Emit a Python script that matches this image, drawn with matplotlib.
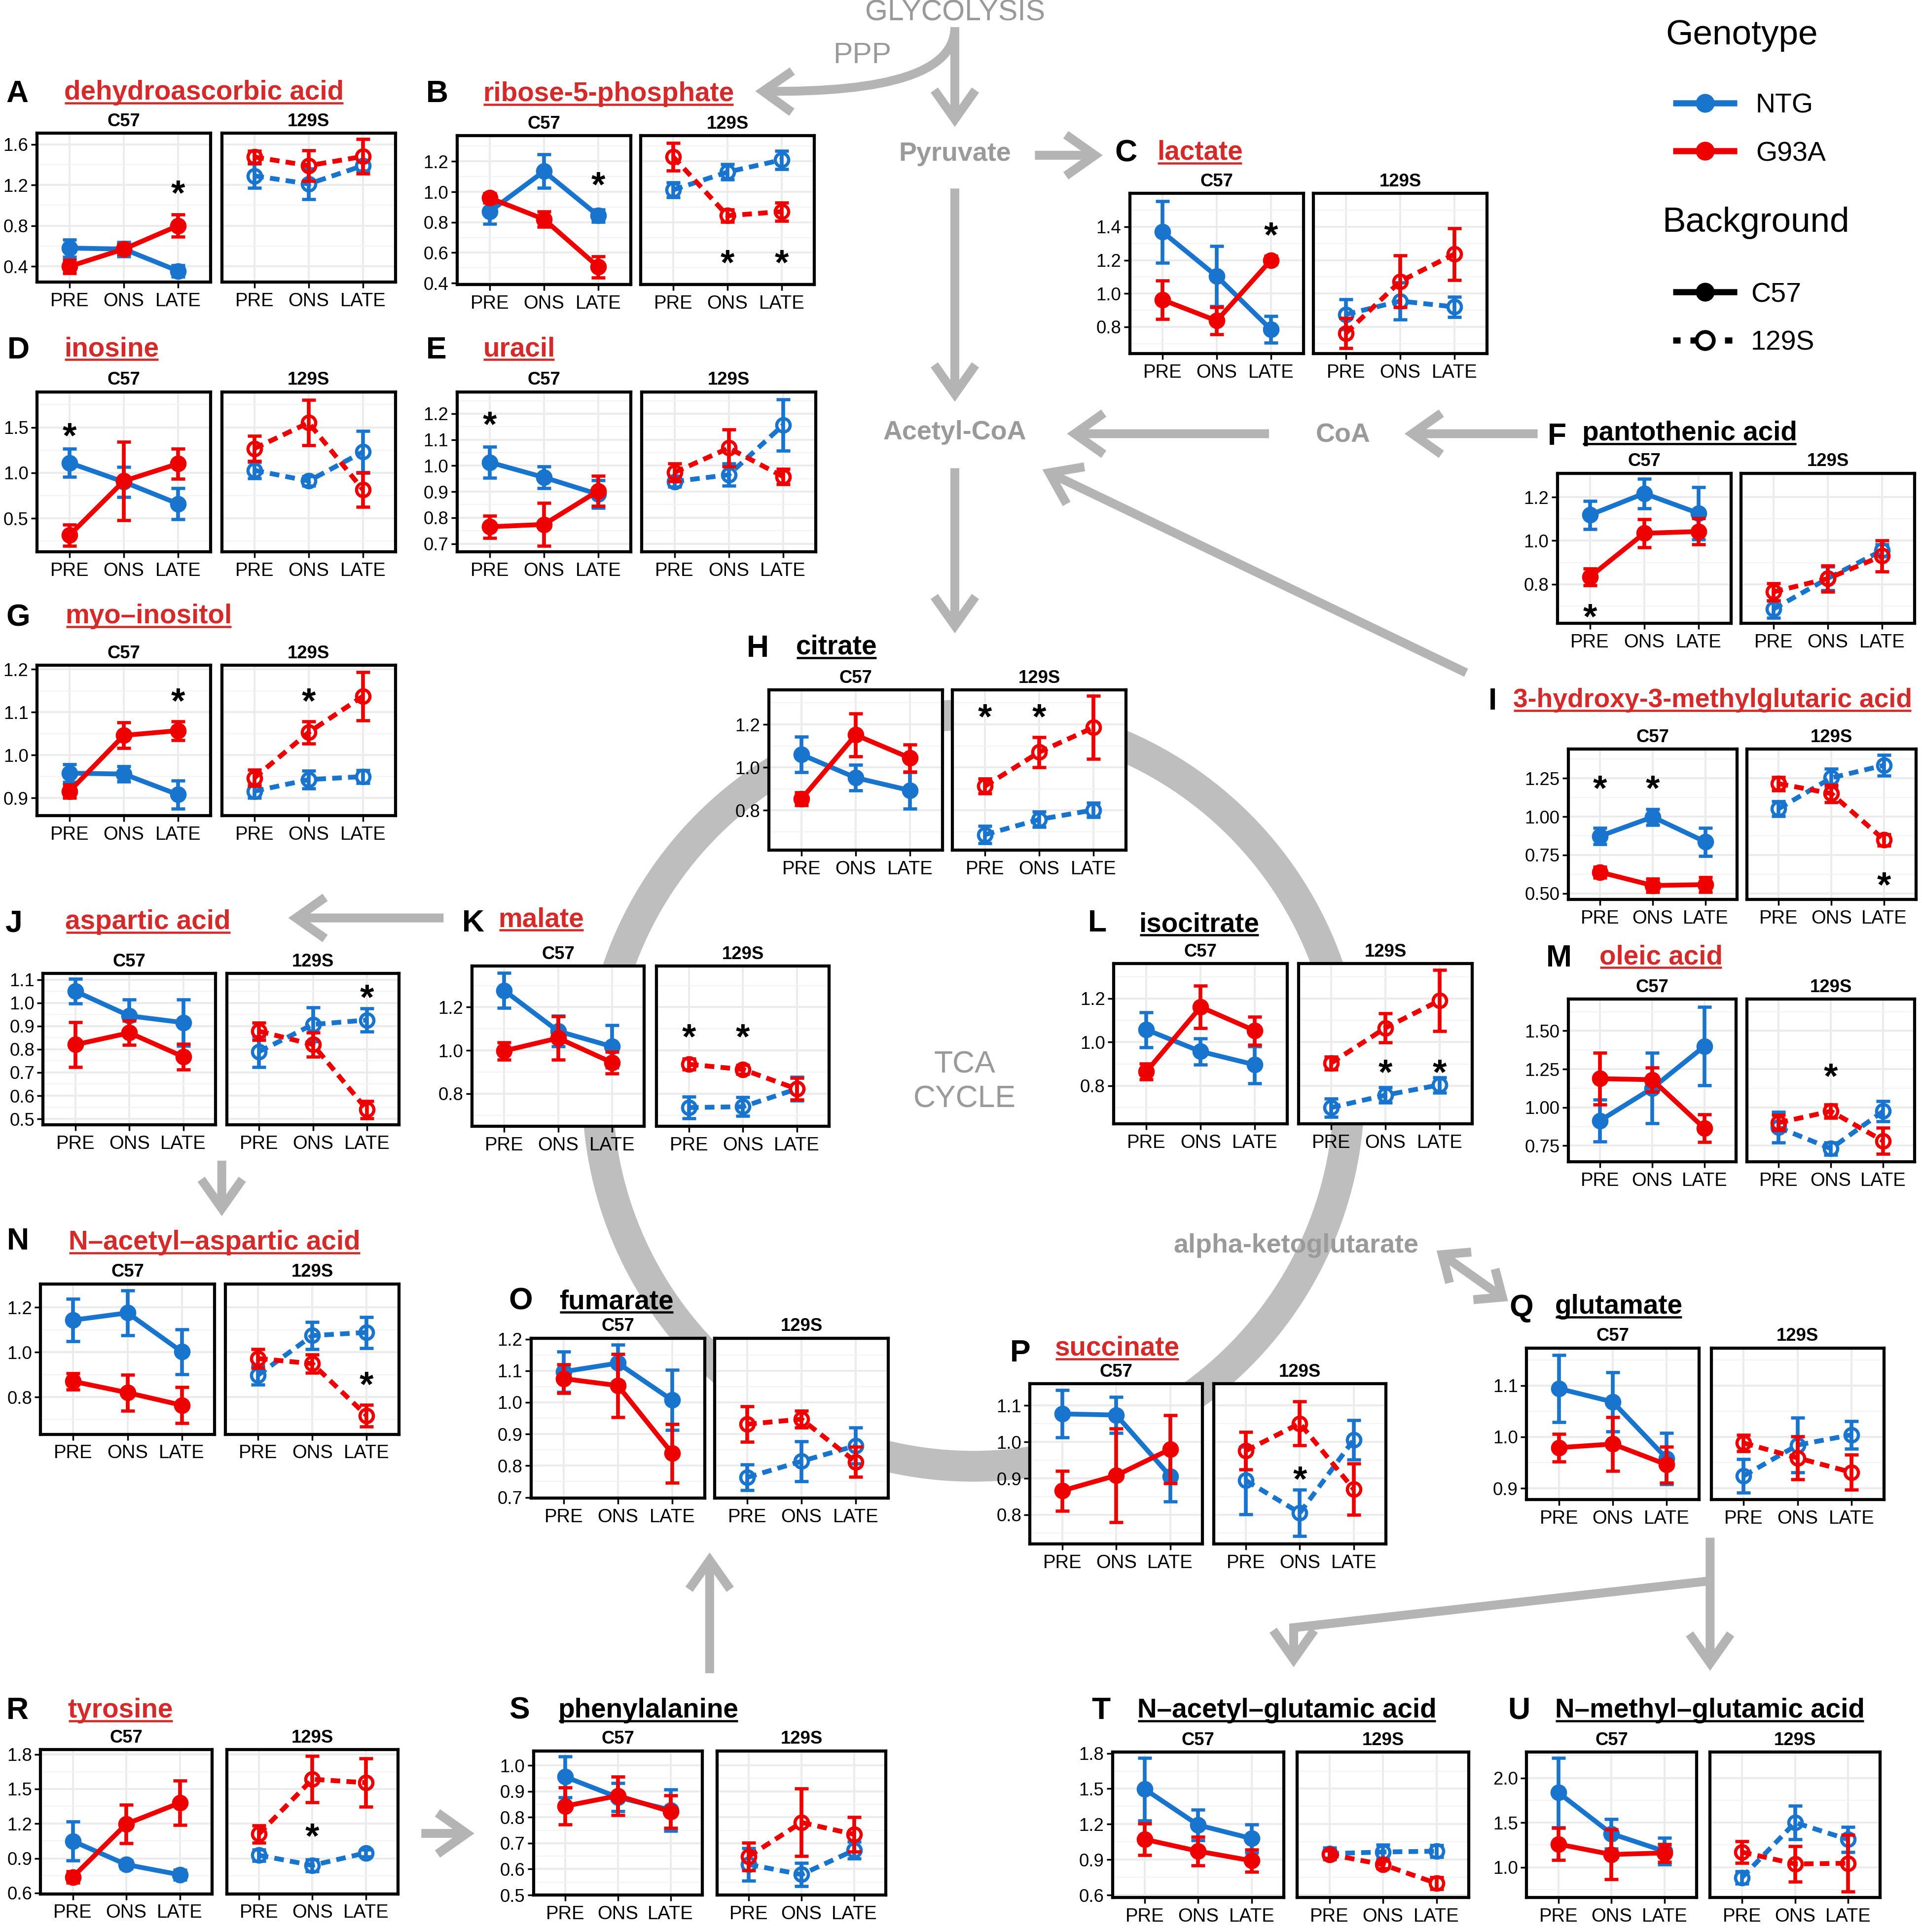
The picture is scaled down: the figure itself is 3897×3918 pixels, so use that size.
import matplotlib
matplotlib.use('Agg')
import matplotlib.pyplot as plt
from matplotlib.patches import Circle, FancyArrowPatch
from matplotlib.path import Path
from matplotlib.transforms import offset_copy

plt.rcParams['font.family'] = ['Liberation Sans', 'DejaVu Sans']

# --- colours / sizes ---
NTG_COL = '#1874CD'
G93A_COL = '#EE0000'
TITLE_RED = '#D42A2A'
ARROW_COL = '#b4b4b4'
RING_COL = '#bebebe'
GREY_TXT = '#9a9a9a'
STAR_SIZE = 21

TIMES = ['PRE', 'ONS', 'LATE']

# --- DATA ---
# rows: C57 NTG, C57 G93A, 129S NTG, 129S G93A ; columns: PRE, ONS, LATE
# stars: (background 0=C57 / 1=129S, timepoint index, height)
dha_mean = [[0.58, 0.57, 0.355], [0.40, 0.57, 0.80], [1.29, 1.21, 1.39], [1.475, 1.39, 1.48]]
dha_err = [[0.085, 0.07, 0.055], [0.065, 0.05, 0.11], [0.12, 0.15, 0.05], [0.06, 0.15, 0.17]]
dha_stars = [(0, 2, 1.20)]

r5p_mean = [[0.87, 1.135, 0.843], [0.96, 0.82, 0.507], [1.013, 1.13, 1.21], [1.23, 0.843, 0.87]]
r5p_err = [[0.08, 0.11, 0.04], [0.03, 0.05, 0.07], [0.05, 0.05, 0.06], [0.09, 0.04, 0.06]]
r5p_stars = [(0, 2, 1.10), (1, 1, 0.59), (1, 2, 0.59)]

lac_mean = [[1.37, 1.104, 0.785], [0.963, 0.837, 1.20], [0.875, 0.955, 0.92], [0.763, 1.073, 1.237]]
lac_err = [[0.185, 0.18, 0.08], [0.115, 0.08, 0.025], [0.09, 0.11, 0.06], [0.09, 0.155, 0.155]]
lac_stars = [(0, 2, 1.40)]

ino_mean = [[1.11, 0.90, 0.66], [0.315, 0.91, 1.10], [1.028, 0.91, 1.23], [1.267, 1.55, 0.815]]
ino_err = [[0.155, 0.165, 0.17], [0.115, 0.43, 0.165], [0.09, 0.05, 0.23], [0.14, 0.25, 0.19]]
ino_stars = [(0, 0, 1.50)]

ura_mean = [[1.013, 0.955, 0.89], [0.765, 0.774, 0.903], [0.939, 0.965, 1.156], [0.974, 1.068, 0.958]]
ura_err = [[0.06, 0.042, 0.053], [0.043, 0.083, 0.058], [0.02, 0.043, 0.098], [0.034, 0.071, 0.03]]
ura_stars = [(0, 0, 1.19)]

pan_mean = [[1.118, 1.217, 1.126], [0.834, 1.034, 1.042], [0.686, 0.827, 0.955], [0.765, 0.826, 0.93]]
pan_err = [[0.064, 0.068, 0.12], [0.038, 0.064, 0.06], [0.04, 0.055, 0.027], [0.04, 0.06, 0.072]]
pan_stars = [(0, 0, 0.69)]

myo_mean = [[0.958, 0.956, 0.908], [0.916, 1.046, 1.057], [0.916, 0.943, 0.95], [0.947, 1.053, 1.137]]
myo_err = [[0.021, 0.018, 0.033], [0.015, 0.03, 0.022], [0.015, 0.021, 0.015], [0.019, 0.026, 0.056]]
myo_stars = [(0, 2, 1.145), (1, 1, 1.145)]

cit_mean = [[1.06, 0.952, 0.893], [0.853, 1.151, 1.044], [0.687, 0.758, 0.802], [0.913, 1.071, 1.186]]
cit_err = [[0.083, 0.06, 0.085], [0.03, 0.1, 0.063], [0.04, 0.036, 0.034], [0.034, 0.07, 0.147]]
cit_stars = [(1, 0, 1.274), (1, 1, 1.274)]

hmg_mean = [[0.873, 0.998, 0.835], [0.638, 0.551, 0.557], [1.052, 1.253, 1.335], [1.215, 1.15, 0.848]]
hmg_err = [[0.054, 0.052, 0.092], [0.035, 0.043, 0.049], [0.049, 0.06, 0.068], [0.043, 0.057, 0.038]]
hmg_stars = [(0, 0, 1.237), (0, 1, 1.237), (1, 2, 0.607)]

asp_mean = [[1.05, 0.944, 0.915], [0.82, 0.871, 0.768], [0.79, 0.907, 0.926], [0.878, 0.82, 0.54]]
asp_err = [[0.053, 0.07, 0.10], [0.097, 0.053, 0.055], [0.066, 0.073, 0.05], [0.037, 0.053, 0.037]]
asp_stars = [(1, 2, 1.06)]

mal_mean = [[1.277, 1.089, 1.018], [0.998, 1.057, 0.944], [0.736, 0.74, 0.822], [0.936, 0.912, 0.822]]
mal_err = [[0.08, 0.07, 0.098], [0.04, 0.10, 0.05], [0.05, 0.043, 0.055], [0.025, 0.02, 0.05]]
mal_stars = [(1, 0, 1.10), (1, 1, 1.10)]

iso_mean = [[1.057, 0.957, 0.896], [0.865, 1.161, 1.052], [0.70, 0.757, 0.804], [0.904, 1.065, 1.191]]
iso_err = [[0.08, 0.06, 0.085], [0.037, 0.098, 0.064], [0.042, 0.035, 0.035], [0.03, 0.067, 0.14]]
iso_stars = [(1, 1, 0.90), (1, 2, 0.90)]

ole_mean = [[0.9125, 1.125, 1.40], [1.1875, 1.181, 0.8625], [0.869, 0.731, 0.975], [0.90, 0.975, 0.781]]
ole_err = [[0.137, 0.23, 0.256], [0.17, 0.08, 0.09], [0.10, 0.04, 0.065], [0.05, 0.044, 0.085]]
ole_stars = [(1, 1, 1.256)]

naa_mean = [[1.143, 1.175, 1.002], [0.87, 0.82, 0.764], [0.898, 1.074, 1.088], [0.972, 0.949, 0.718]]
naa_err = [[0.095, 0.10, 0.10], [0.036, 0.08, 0.08], [0.043, 0.06, 0.069], [0.042, 0.04, 0.048]]
naa_stars = [(1, 2, 0.893)]

fum_mean = [[1.097, 1.124, 1.007], [1.075, 1.053, 0.839], [0.763, 0.814, 0.863], [0.931, 0.947, 0.812]]
fum_err = [[0.064, 0.058, 0.095], [0.045, 0.10, 0.093], [0.041, 0.063, 0.057], [0.056, 0.026, 0.047]]
fum_stars = []

suc_mean = [[1.077, 1.074, 0.906], [0.866, 0.908, 0.98], [0.894, 0.805, 1.006], [0.976, 1.051, 0.87]]
suc_err = [[0.065, 0.05, 0.07], [0.055, 0.129, 0.093], [0.093, 0.064, 0.054], [0.052, 0.06, 0.07]]
suc_stars = [(1, 1, 0.92)]

glu_mean = [[1.094, 1.068, 0.958], [0.979, 0.986, 0.946], [0.924, 0.984, 1.004], [0.988, 0.959, 0.931]]
glu_err = [[0.065, 0.058, 0.05], [0.027, 0.052, 0.035], [0.033, 0.053, 0.027], [0.016, 0.042, 0.034]]
glu_stars = []

tyr_mean = [[1.049, 0.846, 0.758], [0.738, 1.197, 1.38], [0.927, 0.839, 0.947], [1.11, 1.584, 1.554]]
tyr_err = [[0.168, 0.035, 0.043], [0.05, 0.167, 0.19], [0.05, 0.05, 0.03], [0.075, 0.20, 0.21]]
tyr_stars = [(1, 1, 1.163)]

phe_mean = [[0.956, 0.877, 0.828], [0.843, 0.883, 0.822], [0.618, 0.579, 0.673], [0.649, 0.78, 0.734]]
phe_err = [[0.079, 0.054, 0.08], [0.071, 0.074, 0.063], [0.063, 0.044, 0.032], [0.053, 0.13, 0.067]]
phe_stars = []

nag_mean = [[1.497, 1.193, 1.079], [1.072, 0.972, 0.891], [0.951, 0.965, 0.972], [0.945, 0.858, 0.70]]
nag_err = [[0.265, 0.128, 0.118], [0.133, 0.12, 0.094], [0.05, 0.06, 0.05], [0.03, 0.03, 0.05]]
nag_stars = []

nmg_mean = [[1.836, 1.375, 1.178], [1.258, 1.142, 1.16], [0.884, 1.50, 1.31], [1.169, 1.036, 1.044]]
nmg_err = [[0.39, 0.165, 0.15], [0.18, 0.28, 0.10], [0.07, 0.19, 0.14], [0.12, 0.20, 0.32]]
nmg_stars = []

# --- LAYOUT (reference pixels of a 1560 x 1568 grid) ---
W, H = 1560, 1568
# letter, name, red title, data, ylim, yticks, decimals,
# box (C57 left, 129S left, width, top, bottom), letter (x, baseline), title (x, baseline)
panels = [
    ('A', 'dehydroascorbic acid', True, dha_mean, dha_err, dha_stars, (0.245, 1.71), [0.4, 0.8, 1.2, 1.6], 1,
     (30, 180, 141, 108, 229), (5, 83), (52, 81)),
    ('B', 'ribose-5-phosphate', True, r5p_mean, r5p_err, r5p_stars, (0.39, 1.37), [0.4, 0.6, 0.8, 1.0, 1.2], 1,
     (371, 520, 141, 110, 231), (346, 83), (392, 82)),
    ('C', 'lactate', True, lac_mean, lac_err, lac_stars, (0.64, 1.60), [0.8, 1.0, 1.2, 1.4], 1,
     (917, 1066, 141, 157, 287), (905, 131), (939, 129.5)),
    ('D', 'inosine', True, ino_mean, ino_err, ino_stars, (0.13, 1.89), [0.5, 1.0, 1.5], 1,
     (30, 180, 141, 318, 448), (6, 291), (52, 289)),
    ('E', 'uracil', True, ura_mean, ura_err, ura_stars, (0.668, 1.284), [0.7, 0.8, 0.9, 1.0, 1.1, 1.2], 1,
     (371, 521, 141, 318, 448), (346, 291), (392, 289)),
    ('F', 'pantothenic acid', False, pan_mean, pan_err, pan_stars, (0.62, 1.31), [0.8, 1.0, 1.2], 1,
     (1264, 1413, 141, 384, 506), (1256, 361), (1284, 357.5)),
    ('G', 'myo\u2013inositol', True, myo_mean, myo_err, myo_stars, (0.859, 1.209), [0.9, 1.0, 1.1, 1.2], 1,
     (30, 180, 141, 540, 662), (5, 508), (53, 506)),
    ('H', 'citrate', False, cit_mean, cit_err, cit_stars, (0.615, 1.36), [0.8, 1.0, 1.2], 1,
     (624, 773, 141, 560, 690), (606, 533), (646, 531)),
    ('I', '3-hydroxy-3-methylglutaric acid', True, hmg_mean, hmg_err, hmg_stars, (0.46, 1.44),
     [0.5, 0.75, 1.0, 1.25], 2, (1273, 1418, 137, 608, 730), (1208, 576), (1228, 574)),
    ('J', 'aspartic acid', True, asp_mean, asp_err, asp_stars, (0.474, 1.127),
     [0.5, 0.6, 0.7, 0.8, 0.9, 1.0, 1.1], 1, (35, 184, 140, 790, 913), (4, 756), (53, 754)),
    ('K', 'malate', True, mal_mean, mal_err, mal_stars, (0.65, 1.39), [0.8, 1.0, 1.2], 1,
     (383, 533, 140, 784, 914), (375, 756), (404.5, 752)),
    ('L', 'isocitrate', False, iso_mean, iso_err, iso_stars, (0.626, 1.36), [0.8, 1.0, 1.2], 1,
     (904, 1054, 141, 782, 912), (883, 756), (924.5, 756)),
    ('M', 'oleic acid', True, ole_mean, ole_err, ole_stars, (0.644, 1.706), [0.75, 1.0, 1.25, 1.5], 2,
     (1273, 1418, 136, 811, 943), (1255, 784.5), (1298, 782.5)),
    ('N', 'N\u2013acetyl\u2013aspartic acid', True, naa_mean, naa_err, naa_stars, (0.635, 1.304),
     [0.8, 1.0, 1.2], 1, (33, 183, 141, 1042, 1164), (5.7, 1014), (55.7, 1014)),
    ('O', 'fumarate', False, fum_mean, fum_err, fum_stars, (0.697, 1.203), [0.7, 0.8, 0.9, 1.0, 1.1, 1.2], 1,
     (431, 580, 141, 1086, 1216), (413, 1062.6), (454, 1062.3)),
    ('P', 'succinate', True, suc_mean, suc_err, suc_stars, (0.72, 1.16), [0.8, 0.9, 1.0, 1.1], 1,
     (836, 985, 140, 1123, 1253), (819.6, 1105), (856, 1100)),
    ('Q', 'glutamate', False, glu_mean, glu_err, glu_stars, (0.878, 1.173), [0.9, 1.0, 1.1], 1,
     (1239, 1389, 140, 1094, 1217), (1225, 1068), (1262, 1066)),
    ('R', 'tyrosine', True, tyr_mean, tyr_err, tyr_stars, (0.593, 1.84), [0.6, 0.9, 1.2, 1.5, 1.8], 1,
     (33, 184, 139, 1420, 1537), (5, 1395), (55, 1394)),
    ('S', 'phenylalanine', False, phe_mean, phe_err, phe_stars, (0.5, 1.056), [0.5, 0.6, 0.7, 0.8, 0.9, 1.0], 1,
     (433, 582, 137, 1421, 1538), (413, 1395), (453, 1394)),
    ('T', 'N\u2013acetyl\u2013glutamic acid', False, nag_mean, nag_err, nag_stars, (0.58, 1.81),
     [0.6, 0.9, 1.2, 1.5, 1.8], 1, (903, 1053, 139, 1422, 1540), (886, 1395), (923, 1394)),
    ('U', 'N\u2013methyl\u2013glutamic acid', False, nmg_mean, nmg_err, nmg_stars, (0.66, 2.29),
     [1.0, 1.5, 2.0], 1, (1239, 1388, 138, 1422, 1540), (1224, 1395), (1262, 1394)),
]

# --- FIGURE ---
fig = plt.figure(figsize=(3897 / 250, 3918 / 250), dpi=250)
bg = fig.add_axes([0, 0, 1, 1], zorder=0)
bg.set_xlim(0, W)
bg.set_ylim(H, 0)
bg.axis('off')

# TCA ring
bg.add_patch(Circle((790, 885), 305, fill=False, lw=18, ec=RING_COL, zorder=1))


def arrow(p0, p1, style='->', path=None, hl=1.7, hw=1.2):
    kw = dict(arrowstyle=f'{style},head_length={hl},head_width={hw}', mutation_scale=10, lw=5.2,
              color=ARROW_COL, shrinkA=0, shrinkB=0, zorder=1, joinstyle='miter', capstyle='butt')
    if path is not None:
        patch = FancyArrowPatch(path=path, **kw)
    else:
        patch = FancyArrowPatch(p0, p1, **kw)
    bg.add_patch(patch)


arrow((775, 22), (775, 103))
arrow(None, None, path=Path([(775, 22), (775, 76), (613, 74)], [Path.MOVETO, Path.CURVE3, Path.CURVE3]))
arrow((840, 126), (895, 126))
arrow((775, 153), (775, 326))
arrow((1030, 352), (866, 352))
arrow((1248, 352), (1140, 352))
arrow((1190, 546), (846, 381))
arrow((775, 380), (775, 514))
arrow((360, 745), (234, 745))
arrow((180, 942), (180, 987))
arrow((1166, 1015), (1224, 1056), style='<->', hl=1.3, hw=1.1)
arrow((1388, 1248), (1388, 1356))
arrow(None, None, path=Path([(1388, 1283), (1050, 1321), (1050, 1353)], [Path.MOVETO, Path.LINETO, Path.LINETO]))
arrow((576, 1358), (576, 1260))
arrow((342, 1488), (385, 1488))

# pathway labels
bg.text(775, 10.5, 'GLYCOLYSIS', fontsize=17, color=GREY_TXT, ha='center', va='center', zorder=3)
bg.text(700, 45, 'PPP', fontsize=17, color=GREY_TXT, ha='center', va='center', zorder=3)
for x, y, s in [(775, 125, 'Pyruvate'), (775, 351, 'Acetyl-CoA'), (1090, 353, 'CoA'),
                (1052, 1011, 'alpha-ketoglutarate')]:
    bg.text(x, y, s, fontsize=15.5, fontweight='bold', color=GREY_TXT, ha='center', va='center', zorder=3)
bg.text(783, 878, 'TCA\nCYCLE', fontsize=18, color=GREY_TXT, ha='center', va='center',
        linespacing=1.25, zorder=3)

# legend
bg.text(1352, 36, 'Genotype', fontsize=20.5, va='baseline', zorder=3)
bg.text(1349, 188, 'Background', fontsize=20.5, va='baseline', zorder=3)
for y, col, lab in [(83.6, NTG_COL, 'NTG'), (122.5, G93A_COL, 'G93A')]:
    bg.plot([1358, 1410], [y, y], color=col, lw=3.6, solid_capstyle='butt', zorder=3)
    bg.plot([1384], [y], 'o', color=col, ms=10, zorder=3)
    bg.text(1425, y + 8, lab, fontsize=16, va='baseline', zorder=3)
bg.plot([1358, 1410], [237, 237], color='black', lw=3.6, solid_capstyle='butt', zorder=3)
bg.plot([1384], [237], 'o', color='black', ms=10, zorder=3)
bg.text(1421, 245, 'C57', fontsize=16, va='baseline', zorder=3)
bg.plot([1358, 1410], [276, 276], color='black', lw=3.6, ls=(0, (1.2, 1.6)), zorder=3)
bg.plot([1384], [276], 'o', color='black', mfc='white', mew=2.2, ms=10, zorder=4)
bg.text(1421, 284, '129S', fontsize=16, va='baseline', zorder=3)

titles = []
for (letter, name, red, mean, err, stars, ylim, yticks, ndec, box, lxy, txy) in panels:
    c57_left, s129_left, width, top, bottom = box
    step = yticks[1] - yticks[0]
    minor = []
    v = yticks[0] - step / 2
    while v < ylim[1]:
        if v > ylim[0]:
            minor.append(v)
        v += step
    for b, left in enumerate([c57_left, s129_left]):
        ax = fig.add_axes([left / W, 1 - bottom / H, width / W, (bottom - top) / H], zorder=2)
        ax.set_facecolor('white')
        ax.set_xlim(0.4, 3.6)
        ax.set_ylim(*ylim)
        ax.set_xticks([1, 2, 3])
        ax.set_xticklabels(TIMES)
        ax.set_yticks(yticks)
        ax.set_yticks(minor, minor=True)
        ax.set_yticklabels([f'{t:.{ndec}f}' for t in yticks])
        ax.grid(which='major', color='#ebebeb', lw=1.1)
        ax.grid(which='minor', axis='y', color='#f3f3f3', lw=0.6)
        ax.set_axisbelow(True)
        for sp in ax.spines.values():
            sp.set_linewidth(1.8)
            sp.set_color('black')
        ax.tick_params(which='major', direction='out', length=3.5, width=1.0, colors='black',
                       labelsize=11, pad=2.5)
        ax.tick_params(axis='y', labelsize=10.5, pad=1.5)
        ax.tick_params(which='minor', length=0)
        if b == 1:
            ax.tick_params(axis='y', length=0, labelleft=False)
        for g, col in enumerate([NTG_COL, G93A_COL]):
            k = 2 * b + g
            ax.errorbar([1, 2, 3], mean[k], yerr=err[k], color=col, lw=2.8,
                        ls='-' if b == 0 else (0, (2.0, 1.3)),
                        marker='o', ms=7.8, mfc=col if b == 0 else 'none', mec=col, mew=1.9,
                        elinewidth=2.2, capsize=4.0, capthick=2.2, zorder=3 + g)
        star_tr = offset_copy(ax.transData, fig=fig, y=-0.55 * STAR_SIZE, units='points')
        for sb, si, sy in stars:
            if sb == b:
                ax.text(si + 1, sy, '*', fontsize=STAR_SIZE, fontweight='bold', ha='center',
                        va='baseline', transform=star_tr, zorder=6)
        bg.text(left + width / 2, top - 9.5, 'C57' if b == 0 else '129S', fontsize=10.5,
                fontweight='bold', ha='center', va='center', zorder=3)
    bg.text(lxy[0], lxy[1], letter, fontsize=18, fontweight='bold', va='baseline', zorder=3)
    tcol = TITLE_RED if red else 'black'
    tsize = 15.4 if letter == 'I' else 15.8
    t = bg.text(txy[0], txy[1], name, fontsize=tsize, fontweight='bold', color=tcol,
                va='baseline', zorder=3)
    titles.append((t, txy[1], tcol))

# underline the metabolite names
fig.canvas.draw()
inv = bg.transData.inverted()
for t, base, tcol in titles:
    bb = t.get_window_extent()
    x0 = inv.transform((bb.x0, bb.y0))[0]
    x1 = inv.transform((bb.x1, bb.y0))[0]
    bg.plot([x0 + 0.5, x1 - 0.5], [base + 2.8, base + 2.8], color=tcol, lw=1.3,
            solid_capstyle='butt', zorder=3)

fig.savefig('out.png', dpi=250)
